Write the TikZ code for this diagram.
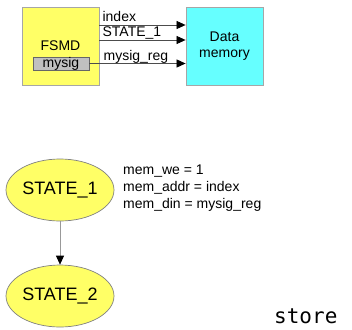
\documentclass[tikz,border=0pt]{standalone}
\usepackage{fontspec}
\setmainfont{Liberation Sans}
\newfontfamily\codefont{DejaVu Sans Mono}
\usetikzlibrary{positioning, arrows.meta, shapes.geometric}
\definecolor{fsmdyellow}{HTML}{FFFF66}
\definecolor{memcyan}{HTML}{66FFFF}
\definecolor{siggray}{HTML}{C0C0C0}
\tikzset{
  >={Triangle[length=9pt,width=8pt,color=black]},
  x=1pt, y=-1pt,
  block/.style={draw=gray!70, line width=0.8pt, minimum width=77pt, minimum height=78pt,
    inner sep=0pt, align=center, font=\fontsize{14}{16}\selectfont},
  sigbox/.style={draw=black!60, fill=siggray, minimum width=56pt, minimum height=13pt,
    inner sep=0pt, text height=9.5pt, text depth=2.5pt, font=\fontsize{14}{16}\selectfont},
  wire/.style={->, draw=black!70, line width=0.7pt},
  wirelabel/.style={anchor=base west, inner sep=0pt, font=\fontsize{14}{16}\selectfont},
  statenode/.style={ellipse, draw=gray, fill=fsmdyellow, line width=0.7pt,
    minimum width=108pt, minimum height=62pt, inner sep=0pt, font=\fontsize{18}{20}\selectfont},
}

\begin{document}
\begin{tikzpicture}
  \useasboundingbox (0,0) rectangle (352,329);

  % datapath view
  \node[block, fill=fsmdyellow] (fsmd) at (60.5,46) {FSMD};
  \node[sigbox] (mysig) at (61,63.5) {mysig};
  \node[block, fill=memcyan] (mem) at (224.5,46) {Data\\memory};

  \draw[wire] ([yshift=21pt]fsmd.east) -- ([yshift=21pt]mem.west);
  \draw[wire] ([yshift=6pt]fsmd.east) -- ([yshift=6pt]mem.west);
  \draw[wire] (mysig.east) -- (mysig.east -| mem.west);
  \node[wirelabel] (lidx) at ([xshift=3pt,yshift=3pt]fsmd.east |- 0,25) {index};
  \node[wirelabel] (lst) at ([xshift=3pt,yshift=3pt]fsmd.east |- 0,40) {STATE\_1};
  \node[wirelabel] (lreg) at ([xshift=4pt,yshift=3pt]fsmd.east |- mysig.east) {mysig\_reg};

  % state view
  \node[statenode] (s1) at (60,190) {STATE\_1};
  \node[statenode] (s2) at (60,296) {STATE\_2};
  \draw[->, draw=gray!80, line width=0.7pt] (s1) -- (s2);
  \node[anchor=north west, inner sep=0pt, align=left,
        font=\fontsize{14}{17}\selectfont] (act) at (123,165)
        {mem\_we = 1\\mem\_addr = index\\mem\_din = mysig\_reg};

  \node[anchor=base west, inner sep=0pt, font=\codefont\fontsize{21}{21}\selectfont]
        (store) at (274,323) {store};
\end{tikzpicture}
\end{document}
